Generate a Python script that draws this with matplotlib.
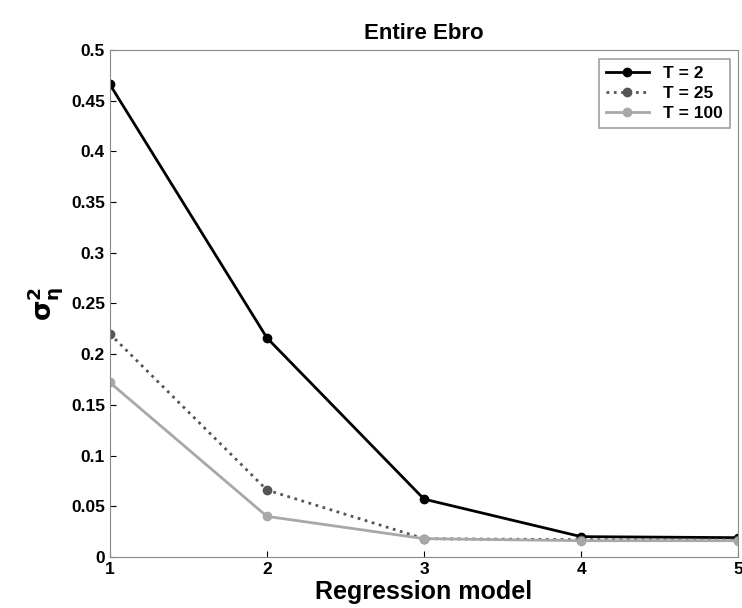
import matplotlib
matplotlib.use("Agg")
import matplotlib.pyplot as plt

# regression model index
models = [1, 2, 3, 4, 5]

# sigma_eta^2 per return period
t2 = [0.466, 0.216, 0.057, 0.020, 0.019]
t25 = [0.220, 0.066, 0.018, 0.017, 0.017]
t100 = [0.172, 0.040, 0.018, 0.016, 0.016]

labels = ['T = 2', 'T = 25', 'T = 100']
yticks = [0, 0.05, 0.1, 0.15, 0.2, 0.25, 0.3, 0.35, 0.4, 0.45, 0.5]

plt.rcParams['font.family'] = ['Liberation Sans', 'DejaVu Sans']
plt.rcParams['font.weight'] = 'bold'

fig = plt.figure(figsize=(7.42, 6.08), dpi=100)
ax = fig.add_axes([0.148, 0.084, 0.847, 0.834])

ax.plot(models, t2, '-', color='black', lw=2, marker='o', ms=6, label=labels[0])
ax.plot(models, t25, ':', color='#555555', lw=2, marker='o', ms=6, label=labels[1])
ax.plot(models, t100, '-', color='#a8a8a8', lw=2, marker='o', ms=6, label=labels[2])

ax.set_xlim(1, 5)
ax.set_ylim(0, 0.5)
ax.set_xticks(models)
ax.set_yticks(yticks)
ax.set_yticklabels(['0', '0.05', '0.1', '0.15', '0.2', '0.25', '0.3', '0.35', '0.4', '0.45', '0.5'])
ax.tick_params(direction='in', labelsize=12.5, length=4)
for s in ax.spines.values():
    s.set_color('#888888')

ax.set_title('Entire Ebro', fontsize=16, fontweight='bold', pad=8)
ax.set_xlabel('Regression model', fontsize=18, fontweight='bold', labelpad=2)
ax.set_ylabel(r'$\mathbf{\sigma_{\eta}^{2}}$', fontsize=19, labelpad=4)

leg = ax.legend(loc='upper right', fontsize=12.5, fancybox=False, edgecolor='#888888',
                handlelength=2.5, borderpad=0.4, labelspacing=0.3)
leg.get_frame().set_linewidth(1.2)

fig.savefig('out.png', dpi=100)
